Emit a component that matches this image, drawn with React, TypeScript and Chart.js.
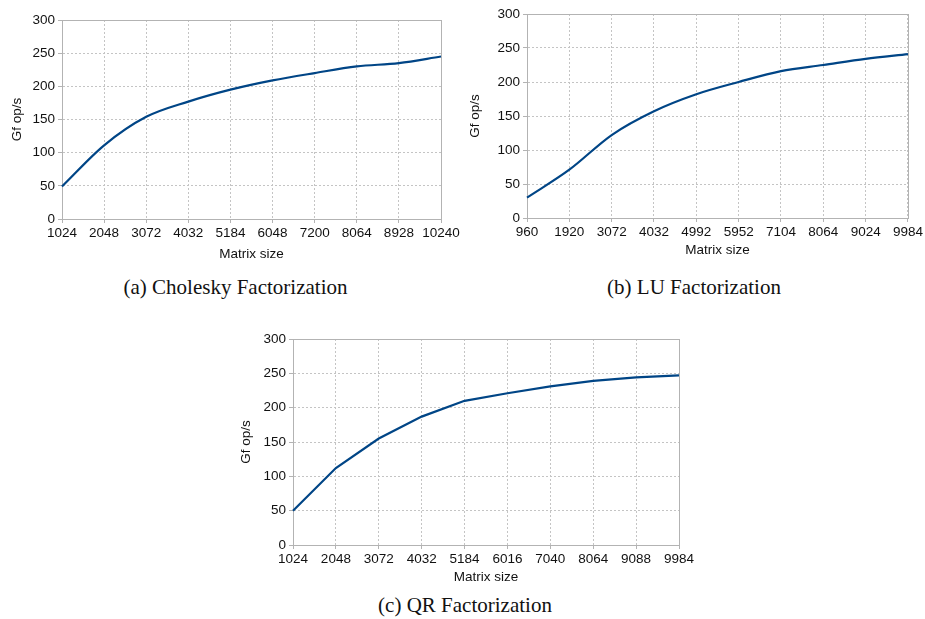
import React, { useEffect, useRef } from "react";
import { Chart, registerables } from "chart.js";

Chart.register(...registerables);

const choleskySizes = ["1024", "2048", "3072", "4032", "5184", "6048", "7200", "8064", "8928", "10240"];
const choleskyGflops = [49, 111, 154, 177, 195, 209, 220, 230, 235, 245];

const luSizes = ["960", "1920", "3072", "4032", "4992", "5952", "7104", "8064", "9024", "9984"];
const luGflops = [30, 71, 122, 157, 182, 200, 216, 225, 234, 241];

const qrSizes = ["1024", "2048", "3072", "4032", "5184", "6016", "7040", "8064", "9088", "9984"];
const qrGflops = [50, 112, 155, 187, 210, 221, 231, 239, 244, 247];

const yTicks = [0, 50, 100, 150, 200, 250, 300];

const FONT = "'Liberation Sans', Arial, sans-serif";
const LINE = "#004586";
const AXIS = "#b3b3b3";
const GRID = "#c4c4c4";

const framePlugin = {
  id: "frame",
  beforeDatasetsDraw(chart: any) {
    const { ctx, chartArea } = chart;
    ctx.save();
    ctx.strokeStyle = AXIS;
    ctx.lineWidth = 1;
    ctx.setLineDash([]);
    ctx.strokeRect(
      Math.round(chartArea.left) + 0.5,
      Math.round(chartArea.top) + 0.5,
      Math.round(chartArea.right - chartArea.left),
      Math.round(chartArea.bottom - chartArea.top)
    );
    ctx.restore();
  },
};

type Cfg = {
  labels: string[];
  values: number[];
  smooth: boolean;
  left: number;
  top: number;
  width: number;
  height: number;
  padTop: number;
  padRight: number;
  yWidth: number;
  xHeight: number;
  yTitlePad: number;
};

function LineChart(props: Cfg) {
  const ref = useRef<HTMLCanvasElement>(null);
  useEffect(() => {
    if (!ref.current) return;
    const chart = new Chart(ref.current, {
      type: "line",
      data: {
        labels: props.labels,
        datasets: [
          {
            data: props.values,
            borderColor: LINE,
            backgroundColor: LINE,
            borderWidth: 2.2,
            pointRadius: 0,
            fill: false,
            tension: props.smooth ? 0.4 : 0,
            cubicInterpolationMode: props.smooth ? "monotone" : "default",
          },
        ],
      },
      options: {
        animation: false,
        responsive: false,
        maintainAspectRatio: false,
        devicePixelRatio: 1,
        layout: { padding: { left: 0, top: props.padTop, right: props.padRight, bottom: 0 } },
        plugins: { legend: { display: false }, tooltip: { enabled: false }, title: { display: false } },
        scales: {
          x: {
            type: "category",
            offset: false,
            grid: {
              color: GRID,
              lineWidth: 1,
              drawTicks: true,
              tickLength: 4,
              tickColor: AXIS,
              tickBorderDash: [],
            },
            border: { display: true, color: AXIS, width: 1, dash: [2, 2] },
            ticks: {
              color: "#111",
              font: { family: FONT, size: 13.5 },
              padding: 2,
              maxRotation: 0,
              minRotation: 0,
              autoSkip: false,
            },
            title: {
              display: true,
              text: "Matrix size",
              color: "#111",
              font: { family: FONT, size: 13.5 },
              padding: { top: 0, bottom: 4 },
            },
            afterFit: (s: any) => {
              s.height = props.xHeight;
            },
          },
          y: {
            min: 0,
            max: 300,
            afterBuildTicks: (s: any) => {
              s.ticks = yTicks.map((v) => ({ value: v }));
            },
            grid: {
              color: GRID,
              lineWidth: 1,
              drawTicks: true,
              tickLength: 4,
              tickColor: AXIS,
              tickBorderDash: [],
            },
            border: { display: true, color: AXIS, width: 1, dash: [2, 2] },
            ticks: {
              color: "#111",
              font: { family: FONT, size: 13.5 },
              padding: 3,
            },
            title: {
              display: true,
              text: "Gf op/s",
              color: "#111",
              font: { family: FONT, size: 13.5 },
              padding: { top: props.yTitlePad, bottom: 0 },
            },
            afterFit: (s: any) => {
              s.width = props.yWidth;
            },
          },
        },
      },
      plugins: [framePlugin],
    } as any);
    return () => chart.destroy();
  }, []);
  return (
    <canvas
      ref={ref}
      width={props.width}
      height={props.height}
      style={{
        position: "absolute",
        left: props.left,
        top: props.top,
        width: props.width,
        height: props.height,
      }}
    />
  );
}

const captionStyle = (cx: number, cy: number): React.CSSProperties => ({
  position: "absolute",
  left: cx - 200,
  width: 400,
  top: cy - 13,
  height: 26,
  lineHeight: "26px",
  textAlign: "center",
  fontFamily: "'Liberation Serif', 'Times New Roman', serif",
  fontSize: 21,
  color: "#111",
});

export default function App() {
  return (
    <div style={{ position: "absolute", left: 0, top: 0, width: 925, height: 619, background: "#fff", overflow: "hidden" }}>
      <LineChart
        labels={choleskySizes}
        values={choleskyGflops}
        smooth={true}
        left={0}
        top={0}
        width={462}
        height={266}
        padTop={20}
        padRight={21}
        yWidth={62}
        xHeight={47}
        yTitlePad={9}
      />
      <LineChart
        labels={luSizes}
        values={luGflops}
        smooth={true}
        left={462}
        top={0}
        width={463}
        height={262}
        padTop={14}
        padRight={17}
        yWidth={65}
        xHeight={44}
        yTitlePad={5}
      />
      <LineChart
        labels={qrSizes}
        values={qrGflops}
        smooth={false}
        left={230}
        top={320}
        width={470}
        height={269}
        padTop={19}
        padRight={21}
        yWidth={63}
        xHeight={44}
        yTitlePad={8.6}
      />
      <div style={captionStyle(235.5, 286.5)}>(a) Cholesky Factorization</div>
      <div style={captionStyle(694, 286.5)}>(b) LU Factorization</div>
      <div style={captionStyle(465, 605)}>(c) QR Factorization</div>
    </div>
  );
}
